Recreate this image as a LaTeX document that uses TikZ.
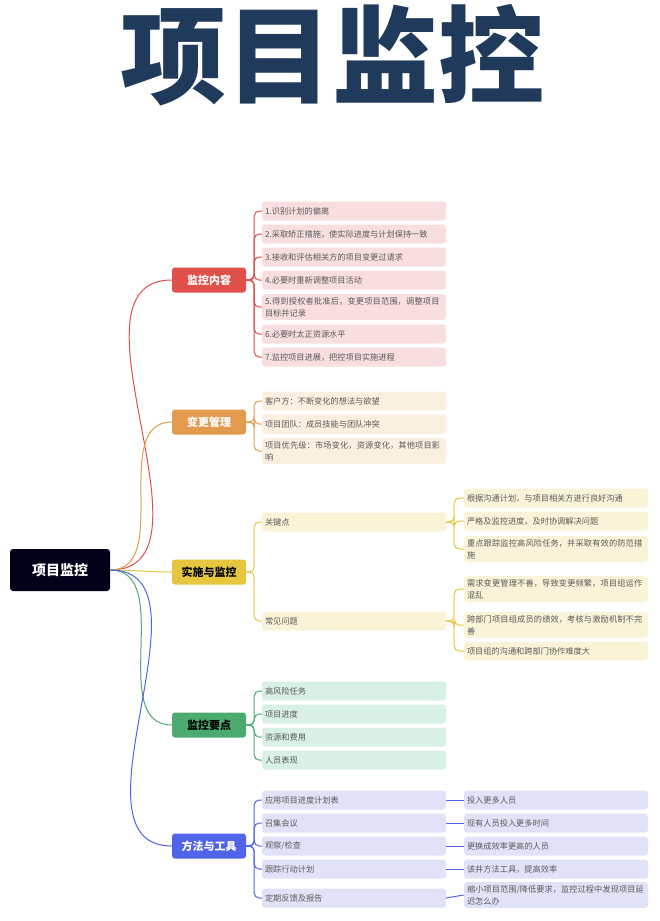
\documentclass[tikz,border=0pt]{standalone}
\usepackage{fontspec}
\setmainfont{Noto Sans CJK SC}
\XeTeXlinebreaklocale "zh"
\XeTeXlinebreakskip=0pt plus 1pt
\begin{document}
\begin{tikzpicture}[x=1pt,y=-1pt,
  branch/.style={rounded corners=3pt,minimum width=74pt,minimum height=25pt,text=white,font=\bfseries\fontsize{11}{13}\selectfont},
  leaf/.style={rounded corners=3pt,minimum width=184pt,text width=178pt,align=left,inner xsep=3pt,inner ysep=3pt,minimum height=19pt,text=black!65,font=\fontsize{8.2}{12}\selectfont},
  lnk/.style={line width=1pt,rounded corners=5pt}]
\useasboundingbox (0,0) rectangle (660,921);
\definecolor{navy}{HTML}{1F3A5A}
\definecolor{cR}{HTML}{E0504A}\definecolor{fR}{HTML}{F8DEDE}
\definecolor{cO}{HTML}{E29A4C}\definecolor{fO}{HTML}{FBEFE0}
\definecolor{cY}{HTML}{E6C63E}\definecolor{fY}{HTML}{FBF3D8}
\definecolor{cG}{HTML}{4AAA70}\definecolor{fG}{HTML}{D9F1E4}
\definecolor{cB}{HTML}{4F64E8}\definecolor{fB}{HTML}{E0E3F8}
\node[text=navy,font=\bfseries\fontsize{106}{106}\selectfont] (title) at (332,55) {项目监控};
\node[fill=black!90!blue,rounded corners=3pt,minimum width=100pt,minimum height=42pt,text=white,font=\bfseries\fontsize{14}{16}\selectfont] (root) at (60,570) {项目监控};
\node[branch,fill=cR] (b1) at (209,280) {监控内容};
\node[branch,fill=cO] (b2) at (209,422) {变更管理};
\node[branch,fill=cY,text=black] (b3) at (209,572) {实施与监控};
\node[branch,fill=cG,text=black] (b4) at (209,725) {监控要点};
\node[branch,fill=cB] (b5) at (209,846) {方法与工具};
\foreach \b/\c in {b1/cR,b2/cO,b3/cY,b4/cG,b5/cB}
  \draw[\c,line width=1pt] (root.east) to[out=0,in=180] (\b.west);
% red
\foreach \n/\y/\t in {r1/211/1.识别计划的偏离,r2/234/2.采取矫正措施，使实际进度与计划保持一致,r3/257/3.接收和评估相关方的项目变更过请求,r4/280/4.必要时重新调整项目活动,r5/307/{5.得到授权者批准后，变更项目范围，调整项目目标并记录},r6/334/6.必要时太正资源水平,r7/357/7.监控项目进展，把控项目实施进程}{
  \node[leaf,fill=fR] (\n) at (354,\y) {\t};
  \draw[lnk,cR] (b1.east) -- ++(8,0) |- (\n.west);}
% orange
\foreach \n/\y/\t in {o1/401/客户方：不断变化的想法与欲望,o2/424/项目团队：成员技能与团队冲突,o3/451/{项目优先级：市场变化，资源变化，其他项目影响}}{
  \node[leaf,fill=fO] (\n) at (354,\y) {\t};
  \draw[lnk,cO] (b2.east) -- ++(8,0) |- (\n.west);}
% yellow
\node[leaf,fill=fY] (y1) at (354,522) {关键点};
\node[leaf,fill=fY] (y2) at (354,621) {常见问题};
\foreach \n in {y1,y2}\draw[lnk,cY] (b3.east) -- ++(8,0) |- (\n.west);
\foreach \n/\y/\p/\t in {k1/498/y1/根据沟通计划，与项目相关方进行良好沟通,k2/521/y1/严格及监控进度，及时协调解决问题,k3/549/y1/{重点跟踪监控高风险任务，并采取有效的防范措施},k4/589/y2/{需求变更管理不善，导致变更频繁，项目组运作混乱},k5/625/y2/{跨部门项目组成员的绩效，考核与激励机制不完善},k6/651/y2/项目组的沟通和跨部门协作难度大}{
  \node[leaf,fill=fY] (\n) at (556,\y) {\t};
  \draw[lnk,cY] (\p.east) -- ++(8,0) |- (\n.west);}
% green
\foreach \n/\y/\t in {g1/691/高风险任务,g2/714/项目进度,g3/737/资源和费用,g4/760/人员表现}{
  \node[leaf,fill=fG] (\n) at (354,\y) {\t};
  \draw[lnk,cG] (b4.east) -- ++(8,0) |- (\n.west);}
% blue
\foreach \n/\y/\t/\m/\v/\u in {m1/800/应用项目进度计划表/n1/800/投入更多人员,m2/823/召集会议/n2/823/现有人员投入更多时间,m3/846/{观察/检查}/n3/846/更换成效率更高的人员,m4/869/跟踪行动计划/n4/869/该井方法工具，提高效率,m5/898/定期反馈及报告/n5/895/{缩小项目范围/降低要求，监控过程中发现项目延迟怎么办}}{
  \node[leaf,fill=fB] (\n) at (354,\y) {\t};
  \draw[lnk,cB] (b5.east) -- ++(8,0) |- (\n.west);
  \node[leaf,fill=fB] (\m) at (556,\v) {\u};
  \draw[lnk,cB] (\n.east) -- (\m.west);}
\end{tikzpicture}
\end{document}
